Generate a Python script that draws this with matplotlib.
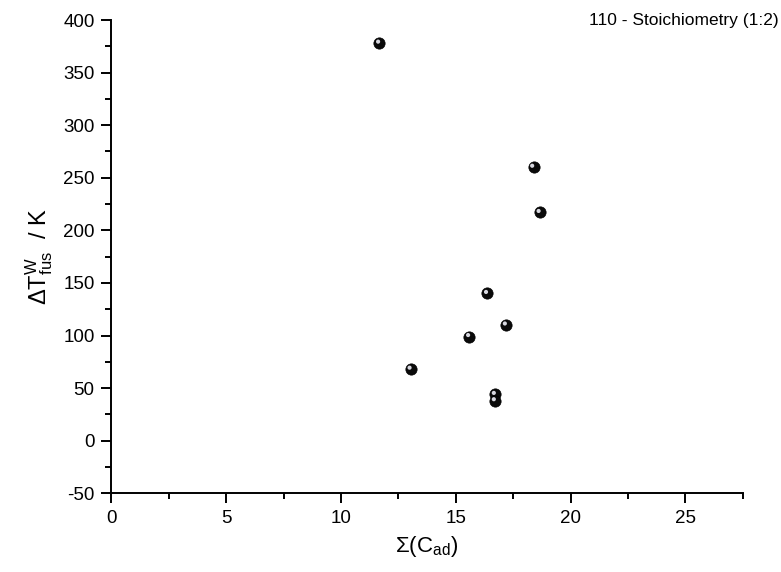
import matplotlib
matplotlib.use("Agg")
import matplotlib.pyplot as plt
import matplotlib.transforms as mtransforms
from matplotlib.ticker import MultipleLocator

sum_cad = [11.68, 13.05, 15.6, 16.38, 16.72, 16.72, 17.2, 18.39, 18.67]
delta_t = [378, 68, 99, 140, 44, 38, 110, 260, 217]

title_text = "110 - Stoichiometry (1:2)"
x_label = r"$\Sigma(\mathrm{C}_{\mathrm{ad}})$"
y_label = r"$\Delta\mathrm{T}^{\mathrm{W}}_{\mathrm{fus}}$  / K"

plt.rcParams["font.family"] = ["Liberation Sans", "DejaVu Sans"]
plt.rcParams["mathtext.fontset"] = "custom"
plt.rcParams["mathtext.rm"] = "Liberation Sans"
plt.rcParams["mathtext.it"] = "Liberation Sans:italic"
plt.rcParams["mathtext.bf"] = "Liberation Sans:bold"
plt.rcParams["axes.unicode_minus"] = False

fig = plt.figure(figsize=(7.81, 5.72), dpi=100)
ax = fig.add_axes([0.1425, 0.1376, 0.951 - 0.1425, 0.965 - 0.1376])

ax.scatter(sum_cad, delta_t, s=66, c="#0a0a0a", edgecolors="#000000", linewidths=0.5, zorder=3)
hl = mtransforms.offset_copy(ax.transData, fig=fig, x=-1.0, y=1.1, units="points")
ax.scatter(sum_cad, delta_t, s=9, c="#d8d8e0", edgecolors="none", transform=hl, zorder=4)

ax.set_xlim(0, 27.5)
ax.set_ylim(-50, 400)
ax.xaxis.set_major_locator(MultipleLocator(5))
ax.xaxis.set_minor_locator(MultipleLocator(2.5))
ax.yaxis.set_major_locator(MultipleLocator(50))
ax.yaxis.set_minor_locator(MultipleLocator(25))

for s in ["top", "right"]:
    ax.spines[s].set_visible(False)
for s in ["left", "bottom"]:
    ax.spines[s].set_linewidth(1.4)

ax.tick_params(which="major", direction="out", length=7, width=1.4, labelsize=13.5, pad=5)
ax.tick_params(which="minor", direction="out", length=4, width=1.4)

ax.set_xlabel(x_label, fontsize=16, labelpad=5)
ax.set_ylabel(y_label, fontsize=17, labelpad=6)

fig.text(779 / 781, 1 - 21 / 572, title_text, ha="right", va="center", fontsize=12.5)

fig.savefig("out.png", dpi=100)
